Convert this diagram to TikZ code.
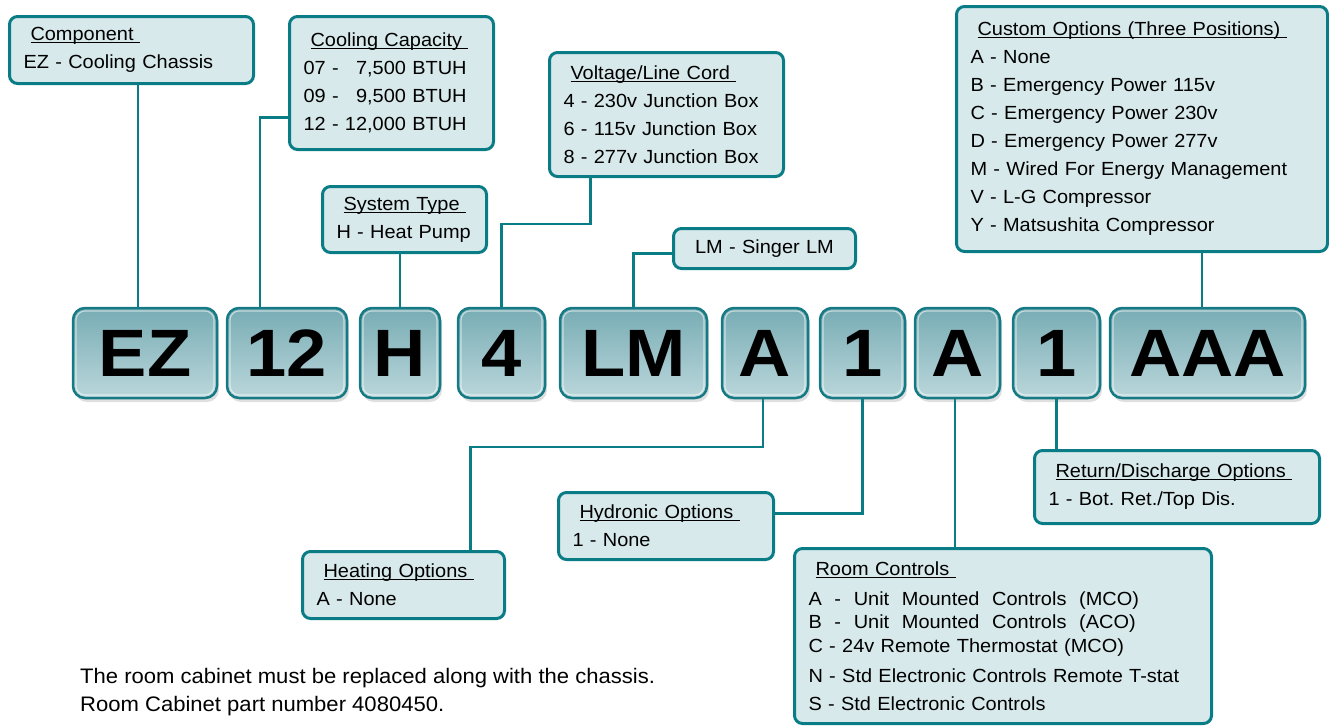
\documentclass[tikz,border=0pt]{standalone}
\usepackage{fontspec}
\setmainfont{Liberation Sans}
\newfontfamily\boxfont[FakeStretch=1.05]{Liberation Sans}
\newfontfamily\btnfont[FakeStretch=1.08]{Liberation Sans Bold}
\usetikzlibrary{shadows}
\frenchspacing
\definecolor{edge}{HTML}{0A7C86}
\definecolor{boxfill}{HTML}{D7E9EB}
\definecolor{btntop}{HTML}{78ACB4}
\definecolor{btnbot}{HTML}{BAD7DB}
\definecolor{btnedge}{HTML}{167A84}
\newcommand{\ttl}[1]{\hspace*{7pt}\setbox0\hbox{#1\ }\rlap{\rule[-2.5pt]{\wd0}{1.1pt}}\box0}
\tikzset{
  infobox/.style={draw=edge, line width=3pt, fill=boxfill, rounded corners=8pt,
    anchor=north west, align=left, inner xsep=14pt, inner ysep=0pt,
    font=\boxfont\fontsize{19}{28}\selectfont},
  btn/.style={draw=btnedge, line width=2.5pt, rounded corners=12pt,
    top color=btntop, bottom color=btnbot, minimum height=90pt, inner sep=0pt,
    font=\btnfont\fontsize{67}{67}\selectfont,
    drop shadow={opacity=0.25, shadow xshift=2pt, shadow yshift=-4pt},
    path picture={\draw[white, opacity=0.55, line width=1.2pt, rounded corners=9pt]
      ([shift={(3pt,-3pt)}]path picture bounding box.north west) rectangle
      ([shift={(-3pt,3pt)}]path picture bounding box.south east);}},
  wire/.style={draw=edge, line width=2.5pt},
}
\begin{document}
\begin{tikzpicture}[x=1pt, y=-1pt]
  \useasboundingbox (0,0) rectangle (1329,726);
  % code buttons
  \node[btn, minimum width=144pt] (ez) at (145,353) {EZ};
  \node[btn, minimum width=120pt] (tw) at (287,353) {12};
  \node[btn, minimum width=80pt] (h) at (400,353) {H};
  \node[btn, minimum width=87pt] (four) at (501.5,353) {4};
  \node[btn, minimum width=147pt] (lm) at (633.5,353) {LM};
  \node[btn, minimum width=86pt] (a1) at (765,353) {A};
  \node[btn, minimum width=85pt] (one1) at (862.5,353) {1};
  \node[btn, minimum width=85pt] (a2) at (957.5,353) {A};
  \node[btn, minimum width=87pt] (one2) at (1056.5,353) {1};
  \node[btn, minimum width=195pt] (aaa) at (1207.5,353) {AAA};
  % option boxes
  \node[infobox, text width=216pt, minimum height=67pt] (comp) at (8,15)
    {\ttl{Component}\\EZ - Cooling Chassis};
  \node[infobox, text width=176pt, minimum height=133pt] (cool) at (288,15)
    {\ttl{Cooling Capacity}\\07 - \hphantom{1}7,500 BTUH\\09 - \hphantom{1}9,500 BTUH\\12 - 12,000 BTUH};
  \node[infobox, text width=136pt, minimum height=66pt] (sys) at (321,185)
    {\ttl{System Type}\\H - Heat Pump};
  \node[infobox, text width=206pt, minimum height=124pt] (volt) at (548,51)
    {\ttl{Voltage/Line Cord}\\4 - 230v Junction Box\\6 - 115v Junction Box\\8 - 277v Junction Box};
  \node[infobox, align=center, text width=154pt, minimum height=40pt] (singer) at (672,227)
    {LM - Singer LM};
  \node[infobox, text width=343pt, minimum height=245pt] (custom) at (955,5)
    {\ttl{Custom Options (Three Positions)}\\A - None\\B - Emergency Power 115v\\C - Emergency Power 230v\\D - Emergency Power 277v\\M - Wired For Energy Management\\V - L-G Compressor\\Y - Matsushita Compressor};
  \node[infobox, text width=174pt, minimum height=67pt] (heat) at (301,550)
    {\ttl{Heating Options}\\A - None};
  \node[infobox, text width=187pt, minimum height=67pt] (hyd) at (557,491)
    {\ttl{Hydronic Options}\\1 - None};
  \node[infobox, text width=389pt, minimum height=175pt] (room) at (793,547)
    {\ttl{Room Controls}\\[2pt]A~~-~~Unit~~Mounted~~Controls~~(MCO)\\[-5pt]B~~-~~Unit~~Mounted~~Controls~~(ACO)\\[-4pt]C - 24v Remote Thermostat (MCO)\\[2pt]N - Std Electronic Controls Remote T-stat\\S - Std Electronic Controls};
  \node[infobox, text width=257pt, minimum height=73pt] (ret) at (1033,449)
    {\ttl{Return/Discharge Options}\\1 - Bot. Ret./Top Dis.};
  \node[anchor=west, align=left, inner sep=0pt, font=\boxfont\fontsize{21}{28}\selectfont] (note) at (80,692)
    {The room cabinet must be replaced along with the chassis.\\Room Cabinet part number 4080450.};
  % connectors
  \draw[wire] ([xshift=-7pt]ez.north) -- ([xshift=-7pt]ez.north |- comp.south);
  \draw[wire] ([yshift=-34.5pt]cool.west) -| ([xshift=-27pt]tw.north);
  \draw[wire] (h.north) -- (h.north |- sys.south);
  \draw[wire] ([xshift=-76pt]volt.south) -- ++(0,46) -| (four.north);
  \draw[wire] ([yshift=-5pt]singer.west) -| (lm.north);
  \draw[wire] ([xshift=-5.5pt]aaa.north) -- ([xshift=-5.5pt]aaa.north |- custom.south);
  \draw[wire] ([xshift=67pt]heat.north) -- ++(0,-103) -| ([xshift=-2pt]a1.south);
  \draw[wire] ([yshift=12.5pt]hyd.east) -| (one1.south);
  \draw[wire] ([xshift=-2.5pt]a2.south) -- ([xshift=-2.5pt]a2.south |- room.north);
  \draw[wire] (one2.south) -- (one2.south |- ret.north);
\end{tikzpicture}
\end{document}
